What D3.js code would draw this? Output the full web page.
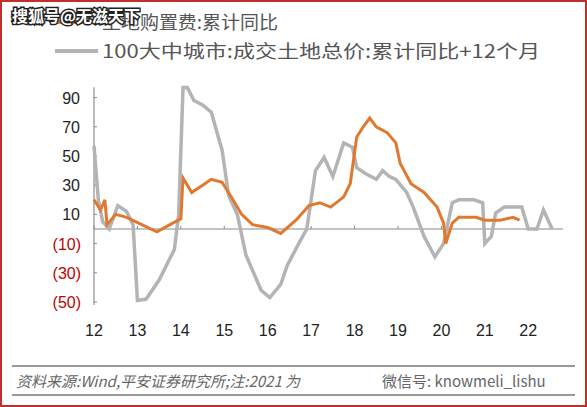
<!DOCTYPE html><html><head><meta charset="utf-8">
<script src="https://cdn.jsdelivr.net/npm/d3@7"></script>
<style>body{margin:0;background:#fff}svg{display:block}</style></head><body>
<svg id="c" width="587" height="407"></svg>
<script>
const grayT=[2012.0,2012.1,2012.2,2012.35,2012.55,2012.75,2012.9,2013.0,2013.2,2013.5,2013.85,2013.95,2014.05,2014.15,2014.3,2014.5,2014.7,2014.95,2015.1,2015.3,2015.5,2015.85,2016.05,2016.3,2016.45,2016.75,2016.9,2017.1,2017.3,2017.5,2017.75,2017.95,2018.05,2018.25,2018.5,2018.65,2018.8,2018.95,2019.2,2019.35,2019.6,2019.85,2020.05,2020.25,2020.4,2020.55,2020.75,2020.95,2021.0,2021.15,2021.25,2021.45,2021.85,2022.0,2022.2,2022.35,2022.55,2022.8];
const grayV=[57,20,5,0,16,12,3,-49,-48,-35,-14,10,97,97,88,85,80,54,23,10,-18,-42,-47,-38,-25,-8,0,40,49,36,59,56,42,38,34,40,36,34,25,15,-5,-19,-10,18,20,20,20,18,-10,-5,11,15,15,0,0,13,0];
const orT=[2012.0,2012.15,2012.25,2012.3,2012.5,2012.75,2013.1,2013.45,2013.75,2014.0,2014.05,2014.25,2014.5,2014.7,2014.95,2015.2,2015.4,2015.65,2016.0,2016.3,2016.65,2016.95,2017.2,2017.45,2017.75,2017.9,2018.05,2018.2,2018.35,2018.5,2018.75,2018.95,2019.05,2019.3,2019.6,2019.9,2020.05,2020.1,2020.25,2020.4,2020.8,2021.0,2021.35,2021.65,2021.8];
const orV=[20,13,20,3,10,8,3,-2,3,7,35,25,30,34,32,20,10,3,1,-3,6,16,18,15,22,31,63,70,76,70,66,59,45,31,25,15,4,-10,4,8,8,6,6,8,6];
const yTicks=[90,70,50,30,10,-10,-30,-50];
const xTicks=[12,13,14,15,16,17,18,19,20,21,22];
const svg=d3.select("#c");
const x=d3.scaleLinear().domain([2012,2022.8]).range([94,563]);
const y=d3.scaleLinear().domain([0,90]).range([229,97.6]);
svg.append("rect").attr("x",1).attr("y",1).attr("width",585).attr("height",405).attr("fill","none").attr("stroke","#c0302a").attr("stroke-width",2);
svg.append("line").attr("x1",94).attr("x2",94).attr("y1",y(97)).attr("y2",y(-52)).attr("stroke","#777");
svg.append("line").attr("x1",94).attr("x2",563).attr("y1",y(0)).attr("y2",y(0)).attr("stroke","#888");
yTicks.forEach(t=>{svg.append("line").attr("x1",94).attr("x2",97).attr("y1",y(t)).attr("y2",y(t)).attr("stroke","#888");
 svg.append("text").attr("x",t<0?81:80).attr("y",y(t)+6).attr("text-anchor","end").attr("font-family","Liberation Sans,Arial").attr("font-size",16).attr("fill",t<0?"#c00000":"#222").text(t<0?"("+(-t)+")":t);});
xTicks.forEach(t=>{const xx=x(2000+t);svg.append("line").attr("x1",xx).attr("x2",xx).attr("y1",y(0)).attr("y2",y(0)-3).attr("stroke","#888");
 svg.append("text").attr("x",xx).attr("y",336).attr("text-anchor","middle").attr("font-family","Liberation Sans,Arial").attr("font-size",16).attr("fill","#222").text(t);});
const line=d3.line().x(d=>x(d[0])).y(d=>y(d[1]));
svg.append("path").datum(d3.zip(grayT,grayV)).attr("d",line).attr("fill","none").attr("stroke","#b4b4b4").attr("stroke-width",3.5);
svg.append("path").datum(d3.zip(orT,orV)).attr("d",line).attr("fill","none").attr("stroke","#e0792f").attr("stroke-width",3);
svg.append("line").attr("x1",55).attr("x2",100).attr("y1",22).attr("y2",22).attr("stroke","#e0792f").attr("stroke-width",4);
svg.append("text").attr("x",102).attr("y",29).attr("font-family","Noto Sans CJK SC").attr("font-size",18).attr("fill","#555").attr("textLength",176).attr("lengthAdjust","spacingAndGlyphs").text("土地购置费:累计同比");
svg.append("line").attr("x1",55).attr("x2",98).attr("y1",51).attr("y2",51).attr("stroke","#b4b4b4").attr("stroke-width",4);
svg.append("text").attr("x",102).attr("y",58).attr("font-family","Noto Sans CJK SC").attr("font-size",18).attr("fill","#555").attr("textLength",438).attr("lengthAdjust","spacingAndGlyphs").text("100大中城市:成交土地总价:累计同比+12个月");
svg.append("text").attr("x",12).attr("y",22).attr("font-family","Noto Sans CJK SC").attr("font-size",16).attr("font-weight","bold").attr("fill","#fff").attr("stroke","#222").attr("stroke-width",3).attr("paint-order","stroke").text("搜狐号@无滋天下");
svg.append("line").attr("x1",12).attr("x2",575).attr("y1",366).attr("y2",366).attr("stroke","#999").attr("stroke-width",2);
svg.append("line").attr("x1",12).attr("x2",575).attr("y1",395).attr("y2",395).attr("stroke","#999").attr("stroke-width",2);
svg.append("text").attr("x",16).attr("y",387).attr("font-family","Noto Sans CJK SC").attr("font-size",15).attr("font-style","italic").attr("fill","#666").text("资料来源:Wind,平安证券研究所;注:2021 为");
svg.append("text").attr("x",382).attr("y",387).attr("font-family","Noto Sans CJK SC").attr("font-size",15).attr("fill","#666").text("微信号: knowmeli_lishu");
</script></body></html>
